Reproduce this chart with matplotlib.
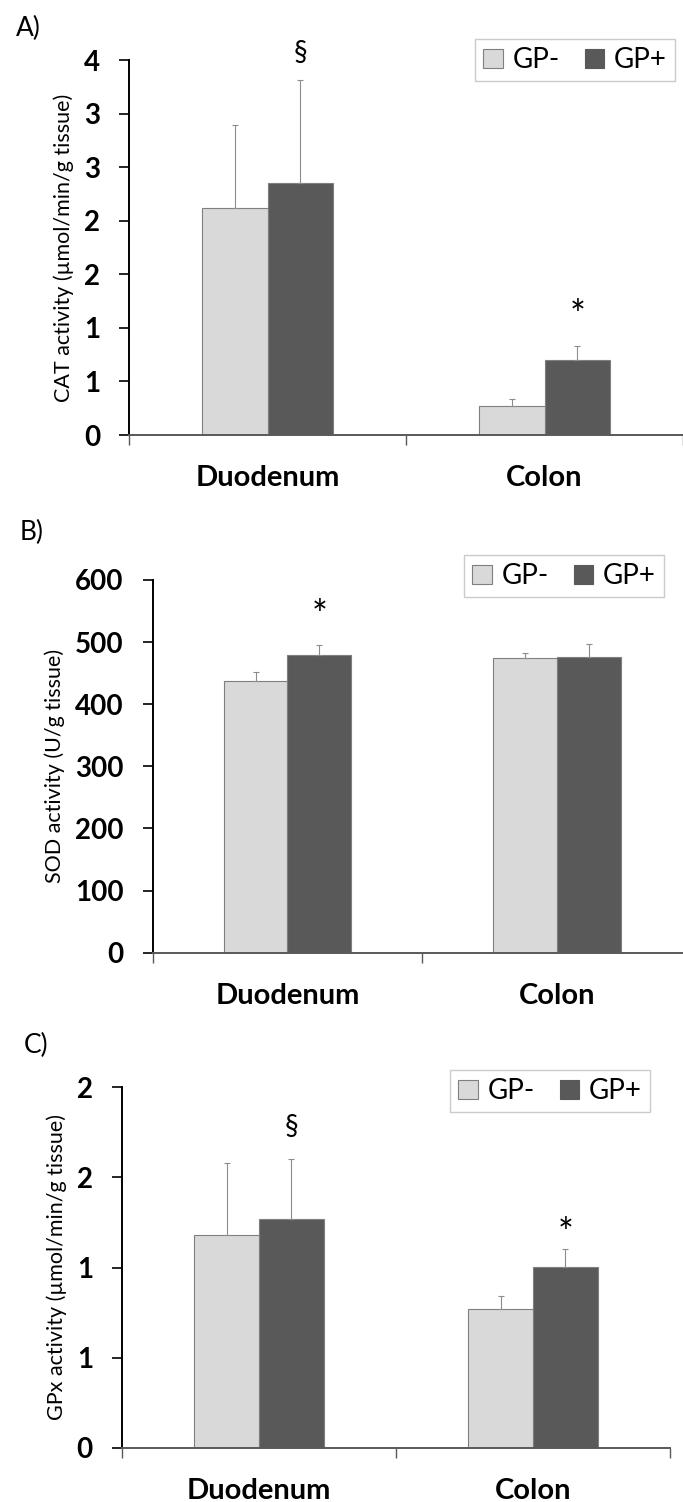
import matplotlib
matplotlib.use("Agg")
import matplotlib.pyplot as plt
from matplotlib.patches import Patch
import numpy as np

plt.rcParams['font.family'] = ['Lato', 'DejaVu Sans']

categories = ['Duodenum', 'Colon']
series_names = ['GP-', 'GP+']

# CAT activity (umol/min/g tissue)
cat_minus = [2.12, 0.27]
cat_minus_err = [0.77, 0.07]
cat_plus = [2.35, 0.70]
cat_plus_err = [0.96, 0.13]
cat_ticks = [0, 0.5, 1.0, 1.5, 2.0, 2.5, 3.0, 3.5]
cat_tick_labels = ['0', '1', '1', '2', '2', '3', '3', '4']

# SOD activity (U/g tissue)
sod_minus = [438, 474]
sod_minus_err = [14, 9]
sod_plus = [479, 476]
sod_plus_err = [16, 21]
sod_ticks = [0, 100, 200, 300, 400, 500, 600]
sod_tick_labels = ['0', '100', '200', '300', '400', '500', '600']

# GPx activity (umol/min/g tissue)
gpx_minus = [1.18, 0.77]
gpx_minus_err = [0.40, 0.07]
gpx_plus = [1.27, 1.005]
gpx_plus_err = [0.33, 0.10]
gpx_ticks = [0, 0.5, 1.0, 1.5, 2.0]
gpx_tick_labels = ['0', '1', '1', '2', '2']

light = '#D9D9D9'
dark = '#595959'
edge = '#7F7F7F'
bar_w = 0.236

fig = plt.figure(figsize=(6.83, 15.02), dpi=100)


def panel(rect, minus, minus_err, plus, plus_err, ticks, tick_labels,
          ylabel, marks, letter, letter_xy, legend_xy):
    ax = fig.add_axes(rect)
    x = np.arange(len(categories)) + 0.5
    ax.bar(x - bar_w / 2, minus, bar_w, color=light, edgecolor=edge, linewidth=0.8, zorder=2)
    ax.bar(x + bar_w / 2, plus, bar_w, color=dark, edgecolor=edge, linewidth=0.8, zorder=2)
    zeros = np.zeros(len(categories))
    ax.errorbar(x - bar_w / 2, minus, yerr=[zeros, minus_err], fmt='none',
                ecolor='#8C8C8C', elinewidth=0.8, capsize=2.5, capthick=0.8, zorder=3)
    ax.errorbar(x + bar_w / 2, plus, yerr=[zeros, plus_err], fmt='none',
                ecolor='#8C8C8C', elinewidth=0.8, capsize=2.5, capthick=0.8, zorder=3)

    ax.set_xlim(0, len(categories))
    ax.set_ylim(0, ticks[-1])
    ax.set_xticks(np.arange(len(categories) + 1))
    ax.set_xticklabels([])
    ax.set_yticks(ticks)
    ax.set_yticklabels(tick_labels, fontsize=20, fontweight='bold')
    ax.tick_params(axis='y', direction='out', length=7, width=1.2, pad=14, color='black')
    ax.tick_params(axis='x', direction='out', length=7, width=1.0, color=dark)

    for side in ['top', 'right']:
        ax.spines[side].set_visible(False)
    ax.spines['left'].set_linewidth(1.4)
    ax.spines['left'].set_color('black')
    ax.spines['bottom'].set_linewidth(1.4)
    ax.spines['bottom'].set_color(dark)

    for cx, name in zip(x, categories):
        ax.annotate(name, xy=(cx, 0), xytext=(0, -31), textcoords='offset points',
                    ha='center', va='center', fontsize=21, fontweight='bold')

    ax.set_ylabel(ylabel, fontsize=15.5, labelpad=7)

    for series, ci, sym, yval in marks:
        xpos = x[ci] + (bar_w / 2 if series == 1 else -bar_w / 2)
        size = 27 if sym == '*' else 20
        ax.text(xpos, yval, sym, ha='center', va='center', fontsize=size, clip_on=False)

    fig.text(letter_xy[0], letter_xy[1], letter, fontsize=19, ha='left', va='center')

    handles = [Patch(facecolor=light, edgecolor=edge, linewidth=0.8),
               Patch(facecolor=dark, edgecolor=dark, linewidth=0.8)]
    leg = fig.legend(handles, series_names, loc='center', ncol=2,
                     bbox_to_anchor=legend_xy, bbox_transform=fig.transFigure,
                     fontsize=20, frameon=True, fancybox=False,
                     edgecolor='#BFBFBF', handlelength=0.7, handleheight=0.7,
                     handletextpad=0.35, columnspacing=0.9, borderpad=0.3,
                     borderaxespad=0)
    leg.get_frame().set_linewidth(1.0)
    return ax


H = 1502.0
W = 683.0

panel([129.4 / W, 1 - 435 / H, 1 - 129.4 / W, 375 / H],
      cat_minus, cat_minus_err, cat_plus, cat_plus_err, cat_ticks, cat_tick_labels,
      'CAT activity (µmol/min/g tissue)',
      [(1, 0, '§', 3.57), (1, 1, '*', 1.10)],
      'A)', (16 / W, 1 - 28 / H),
      (575 / W, 1 - 60 / H))

panel([152.6 / W, 1 - 952.7 / H, 539.2 / W, 372.7 / H],
      sod_minus, sod_minus_err, sod_plus, sod_plus_err, sod_ticks, sod_tick_labels,
      'SOD activity (U/g tissue)',
      [(1, 0, '*', 540)],
      'B)', (20 / W, 1 - 532 / H),
      (564 / W, 1 - 576 / H))

panel([122 / W, 1 - 1448 / H, 548 / W, 361 / H],
      gpx_minus, gpx_minus_err, gpx_plus, gpx_plus_err, gpx_ticks, gpx_tick_labels,
      'GPx activity (µmol/min/g tissue)',
      [(1, 0, '§', 1.78), (1, 1, '*', 1.18)],
      'C)', (24 / W, 1 - 1045 / H),
      (550 / W, 1 - 1091 / H))

fig.savefig('out.png', dpi=100)
